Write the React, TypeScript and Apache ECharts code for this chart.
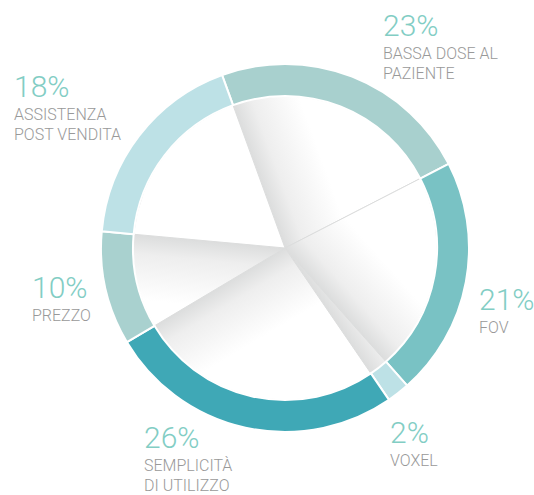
import React, { useEffect, useRef } from "react";
import * as echarts from "echarts";

const CATEGORIES = [
  "BASSA DOSE AL\nPAZIENTE",
  "FOV",
  "VOXEL",
  "SEMPLICITÀ\nDI UTILIZZO",
  "PREZZO",
  "ASSISTENZA\nPOST VENDITA",
];
const VALUES = [23, 21, 2, 26, 10, 18];

const RING_COLORS = ["#a8d0ce", "#79c2c4", "#bde1e6", "#3fa8b6", "#a9d1cf", "#bde1e6"];
// which edge of each inner white slice carries the fold shadow
const SHADE_EDGE = ["start", "end", "end", "end", "end", "none"];
const LABEL_POS: [number, number][] = [
  [383, 7],
  [479, 281],
  [390, 414],
  [144, 419],
  [32, 269],
  [14, 68],
];

const CENTER: [number, number] = [285, 248];
const START_ANGLE = 110;

export default function App() {
  const ref = useRef<HTMLDivElement>(null);
  useEffect(() => {
    document.body.style.margin = "0";
    if (!ref.current) return;
    const chart = echarts.init(ref.current, undefined, { renderer: "svg" });
    const total = VALUES.reduce((a, b) => a + b, 0);
    let acc = 0;
    const startFromTop = 90 - START_ANGLE; // clockwise degrees from 12 o'clock
    const innerData = VALUES.map((v, i) => {
      const a0 = startFromTop + (acc / total) * 360;
      acc += v;
      const a1 = startFromTop + (acc / total) * 360;
      const edge = SHADE_EDGE[i];
      let color: any = "#ffffff";
      if (edge !== "none") {
        const phi = ((edge === "start" ? a0 : a1) * Math.PI) / 180;
        const sgn = edge === "start" ? 1 : -1;
        const nx = sgn * Math.cos(phi);
        const ny = sgn * Math.sin(phi);
        const d = 65;
        color = {
          type: "linear",
          global: true,
          x: CENTER[0],
          y: CENTER[1],
          x2: CENTER[0] + nx * d,
          y2: CENTER[1] + ny * d,
          colorStops: [
            { offset: 0, color: "#dcdddd" },
            { offset: 0.3, color: "#eeeeee" },
            { offset: 1, color: "#ffffff" },
          ],
        };
      }
      return { name: CATEGORIES[i], value: v, itemStyle: { color } };
    });

    chart.setOption({
      animation: false,
      backgroundColor: "#ffffff",
      series: [
        {
          type: "pie",
          center: CENTER,
          radius: [0, 152],
          startAngle: START_ANGLE,
          silent: true,
          label: { show: false },
          labelLine: { show: false },
          itemStyle: { borderColor: "#dcdddd", borderWidth: 1 },
          data: innerData,
        },
        {
          type: "pie",
          center: CENTER,
          radius: [152, 184],
          startAngle: START_ANGLE,
          silent: true,
          labelLine: { show: false },
          itemStyle: { borderColor: "#ffffff", borderWidth: 2 },
          label: {
            show: true,
            overflow: "none",
            formatter: (p: any) =>
              `{p|${p.value}%}\n` +
              String(p.name)
                .split("\n")
                .map((l: string) => `{n|${l}}`)
                .join("\n"),
            rich: {
              p: {
                fontFamily: "Roboto",
                fontWeight: 300,
                fontSize: 30,
                lineHeight: 36,
                color: "#82cdc4",
              },
              n: {
                fontFamily: "Roboto",
                fontWeight: 300,
                fontSize: 16,
                lineHeight: 20,
                color: "#999999",
              },
            },
          },
          labelLayout: (params: any) => ({
            x: LABEL_POS[params.dataIndex][0],
            y: LABEL_POS[params.dataIndex][1],
            align: "left",
            verticalAlign: "top",
          }),
          data: VALUES.map((v, i) => ({
            name: CATEGORIES[i],
            value: v,
            itemStyle: { color: RING_COLORS[i] },
          })),
        },
      ],
    });
    return () => chart.dispose();
  }, []);
  return <div ref={ref} style={{ width: 534, height: 495, overflow: "hidden" }} />;
}
